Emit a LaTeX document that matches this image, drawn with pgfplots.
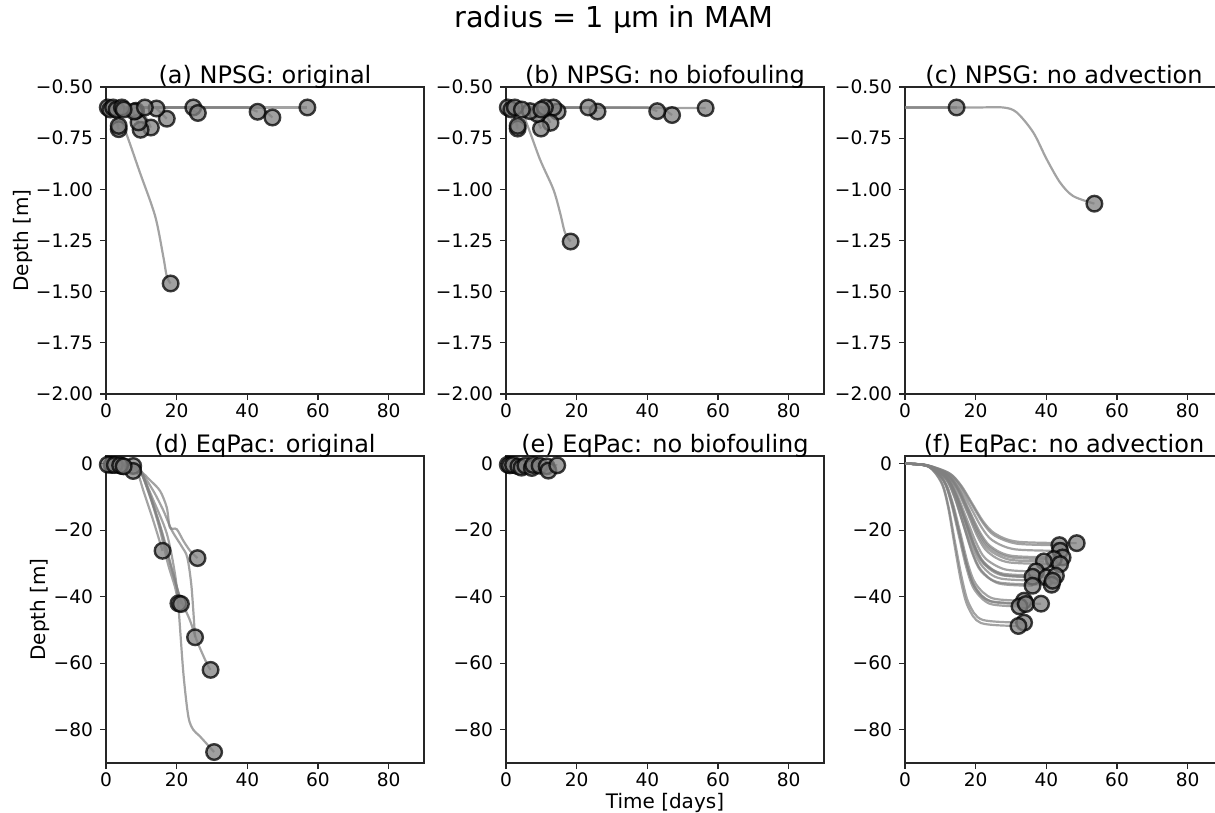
\documentclass[border=0pt]{standalone}
\usepackage{fontspec}
\setmainfont{DejaVu Sans}
\usepackage{pgfplots}
\pgfplotsset{compat=1.18}
\definecolor{trajgray}{RGB}{128,128,128}

\pgfplotsset{
  panel/.style={
    scale only axis, width=159pt, height=153.5pt,
    xmin=0, xmax=90, xtick={0,20,40,60,80}, xticklabels={0,20,40,60,80},
    tick align=outside, xtick pos=bottom, ytick pos=left,
    major tick length=3pt,
    tick style={black!85, line width=0.6pt},
    axis line style={black!85, line width=0.6pt},
    tick label style={font=\fontsize{9.3}{11}\selectfont},
    xticklabel shift=-1.5pt,
    label style={font=\fontsize{10}{12}\selectfont},
    ylabel shift=-5pt, xlabel shift=-4pt,
    every axis title/.style={at={(0.5,1)}, anchor=base, yshift=2pt, font=\fontsize{12}{14}\selectfont},
    anchor=south west,
  },
  top/.style={ymin=-2, ymax=-0.5, ytick={-2,-1.75,-1.5,-1.25,-1,-0.75,-0.5},
    yticklabels={−2.00,−1.75,−1.50,−1.25,−1.00,−0.75,−0.50}},
  bot/.style={ymin=-90, ymax=2.3, ytick={-80,-60,-40,-20,0},
    yticklabels={−80,−60,−40,−20,0}},
  traj/.style={no markers, color=trajgray, opacity=0.72, line width=1.1pt},
  ends/.style={only marks, mark=*, mark size=3.9pt,
    mark options={fill=trajgray, fill opacity=0.75, draw=black, draw opacity=0.75, line width=1.2pt}},
}

\begin{document}
\begin{tikzpicture}

\node[font=\fontsize{14.4}{17}\selectfont] at (307pt,-10pt) {radius = 1 µm in MAM};

% (a) NPSG original
\begin{axis}[panel, top, at={(53pt,-197pt)}, title={(a) NPSG: original}, ylabel={Depth [m]}]
\addplot[traj] coordinates {(0,-0.6)(57,-0.6)};
\addplot[traj] coordinates {(0,-0.6)(40,-0.6)(42.9,-0.621)};
\addplot[traj] coordinates {(0,-0.6)(44,-0.6)(47.1,-0.649)};
\addplot[traj] coordinates {(0,-0.6)(23,-0.6)(26,-0.627)};
\addplot[traj] coordinates {(0,-0.6)(14,-0.6)(17.2,-0.655)};
\addplot[traj] coordinates {(0,-0.6)(10,-0.6)(12.7,-0.698)};
\addplot[traj] coordinates {(0,-0.6)(7,-0.6)(9.8,-0.709)};
\addplot[traj] coordinates {(0,-0.6)(7,-0.6)(9.2,-0.673)};
\addplot[traj] coordinates {(0,-0.6)(1.5,-0.6)(3.6,-0.706)};
\addplot[traj] coordinates {(0,-0.6)(1.5,-0.6)(3.6,-0.69)};
\addplot[traj, smooth] coordinates {(0,-0.6)(2,-0.61)(4.9,-0.69)(9.6,-0.918)(13.9,-1.13)(16.2,-1.327)(17.2,-1.425)(18.3,-1.46)};
\addplot[ends] coordinates {(57,-0.6)(42.9,-0.621)(47.1,-0.649)(24.7,-0.6)(26,-0.627)(17.2,-0.655)(14.3,-0.605)(12.7,-0.698)(9.8,-0.709)(9.2,-0.673)(8.5,-0.616)(8.0,-0.62)(11,-0.6)(3.6,-0.706)(3.6,-0.69)(0.5,-0.6)(1.2,-0.61)(2,-0.6)(3,-0.61)(4.5,-0.6)(5,-0.61)(18.3,-1.46)};
\end{axis}

% (b) NPSG no biofouling
\begin{axis}[panel, top, at={(253pt,-197pt)}, title={(b) NPSG: no biofouling}]
\addplot[traj] coordinates {(0,-0.6)(56.5,-0.603)};
\addplot[traj] coordinates {(0,-0.6)(44,-0.6)(47,-0.637)};
\addplot[traj] coordinates {(0,-0.6)(40,-0.6)(42.8,-0.618)};
\addplot[traj] coordinates {(0,-0.6)(23,-0.6)(25.9,-0.62)};
\addplot[traj] coordinates {(0,-0.6)(12,-0.6)(14.6,-0.62)};
\addplot[traj] coordinates {(0,-0.6)(10,-0.6)(12.6,-0.675)};
\addplot[traj] coordinates {(0,-0.6)(7,-0.6)(9.9,-0.703)};
\addplot[traj] coordinates {(0,-0.6)(6,-0.6)(8.9,-0.632)};
\addplot[traj] coordinates {(0,-0.6)(1.5,-0.6)(3.3,-0.703)};
\addplot[traj] coordinates {(0,-0.6)(1.5,-0.6)(3.3,-0.69)};
\addplot[traj, smooth] coordinates {(0,-0.6)(2,-0.61)(4.9,-0.64)(9.6,-0.853)(13.4,-1.0)(15.3,-1.114)(16.7,-1.212)(18.3,-1.255)};
\addplot[ends] coordinates {(56.5,-0.603)(47,-0.637)(42.8,-0.618)(25.9,-0.62)(23.3,-0.6)(14.6,-0.62)(13.4,-0.6)(12.6,-0.675)(9.9,-0.703)(8.9,-0.632)(6.8,-0.618)(11,-0.6)(10,-0.61)(3.3,-0.703)(3.3,-0.69)(0.5,-0.6)(1.5,-0.61)(2.5,-0.6)(4.5,-0.61)(18.3,-1.255)};
\end{axis}

% (c) NPSG no advection
\begin{axis}[panel, top, at={(452.5pt,-197pt)}, title={(c) NPSG: no advection}]
\addplot[traj] coordinates {(0,-0.6)(14.6,-0.6)};
\addplot[traj, smooth] coordinates {(0,-0.6)(20,-0.6)(27.8,-0.6)(31.6,-0.624)(36.3,-0.722)(40.1,-0.853)(43.9,-0.967)(47.6,-1.033)(53.6,-1.07)};
\addplot[ends] coordinates {(14.6,-0.6)(53.6,-1.07)};
\end{axis}

% (d) EqPac original
\begin{axis}[panel, bot, at={(53pt,-381.5pt)}, title={(d) EqPac: original}, ylabel={Depth [m]}]
\addplot[traj] coordinates {(0,0)(1.6,-0.4)};
\addplot[traj] coordinates {(0,0)(4.5,-0.7)};
\addplot[traj] coordinates {(0,0)(7.7,-0.7)};
\addplot[traj] coordinates {(0,0)(5,-0.3)(7.7,-2.2)};
\addplot[traj, smooth] coordinates {(0,0)(6,-0.2)(8.7,-2.2)(10.6,-8.2)(13.4,-17.2)(16.0,-26.2)};
\addplot[traj, smooth] coordinates {(0,0)(7,-0.2)(9.6,-2)(12.5,-5)(15.3,-8.2)(17.2,-13.2)(18.1,-19.2)(20.0,-19.7)(21.9,-23.2)(23.8,-26.2)(25.9,-28.4)};
\addplot[traj, smooth] coordinates {(0,0)(7,-0.2)(9.6,-2)(13.4,-8.2)(16.2,-14)(18.6,-20)(21.5,-25)(23.0,-28.2)(24.2,-37)(25.2,-52.2)};
\addplot[traj, smooth] coordinates {(0,0)(7,-0.2)(9.6,-2)(12.5,-10)(15.3,-19)(18.1,-30)(20.9,-40)(23.8,-47.2)(25.7,-53.2)(28.5,-60)(29.6,-62)};
\addplot[traj, smooth] coordinates {(0,0)(7,-0.2)(9.6,-2)(12.5,-10)(15.3,-20)(17.5,-30)(19.5,-37)(20.5,-42)};
\addplot[traj, smooth] coordinates {(0,0)(7,-0.2)(10,-2.5)(13,-11)(16,-21)(18.5,-31)(20.3,-38)(21.2,-42.2)};
\addplot[traj, smooth] coordinates {(0,0)(7,-0.2)(9.6,-2)(13.4,-11)(17.2,-21)(19.5,-33)(20.5,-43)(21.9,-63)(23.3,-76)(24.7,-80)(26.6,-82)(30.6,-86.7)};
\addplot[ends] coordinates {(1.6,-0.4)(4.5,-0.7)(7.7,-0.7)(7.7,-2.2)(0.5,-0.3)(2.5,-0.4)(4.0,-0.5)(5.0,-0.8)(16.0,-26.2)(25.9,-28.4)(25.2,-52.2)(29.6,-62)(20.5,-42)(21.2,-42.2)(30.6,-86.7)};
\end{axis}

% (e) EqPac no biofouling
\begin{axis}[panel, bot, at={(253pt,-381.5pt)}, title={(e) EqPac: no biofouling}, xlabel={Time [days]}]
\addplot[traj] coordinates {(0,0)(3,-0.3)(3.5,-0.8)};
\addplot[traj] coordinates {(0,0)(3,-0.4)(4.4,-1.2)};
\addplot[traj] coordinates {(0,0)(5,-0.5)(7.3,-1.3)};
\addplot[traj] coordinates {(0,0)(6,-0.3)(9.5,-0.6)};
\addplot[traj] coordinates {(0,0)(8,-0.5)(11.5,-0.8)};
\addplot[traj] coordinates {(0,0)(9,-0.9)(12,-2.1)};
\addplot[traj] coordinates {(0,0)(10,-0.3)(14.5,-0.5)};
\addplot[ends] coordinates {(0.5,-0.3)(1.1,-0.5)(2,-0.4)(3.5,-0.8)(4.4,-1.2)(5.5,-0.6)(7.3,-1.3)(7.7,-0.4)(9.5,-0.6)(11.5,-0.8)(12,-2.1)(14.5,-0.5)};
\end{axis}

% (f) EqPac no advection
\begin{axis}[panel, bot, at={(452.5pt,-381.5pt)}, title={(f) EqPac: no advection}]
\addplot[traj, smooth] coordinates {(0,0)(6.1,-0.43)(12.5,-2.84)(15.8,-6.43)(19.0,-11.95)(22.2,-17.47)(25.5,-21.05)(31.9,-23.47)(48.6,-23.9)};
\addplot[traj, smooth] coordinates {(0,0)(6.1,-0.44)(12.5,-2.92)(15.7,-6.59)(18.9,-12.25)(22.1,-17.91)(25.3,-21.58)(31.7,-24.06)(43.7,-24.5)};
\addplot[traj, smooth] coordinates {(0,0)(6.1,-0.47)(12.35,-3.12)(15.45,-7.05)(18.56,-13.1)(21.67,-19.15)(24.77,-23.08)(30.98,-25.73)(43.9,-26.2)};
\addplot[traj, smooth] coordinates {(0,0)(6.2,-0.51)(12.2,-3.36)(15.2,-7.59)(18.2,-14.1)(21.2,-20.61)(24.2,-24.84)(30.1,-27.69)(44.6,-28.2)};
\addplot[traj, smooth] coordinates {(0,0)(6.2,-0.52)(12.1,-3.42)(15.1,-7.72)(18.1,-14.35)(21.0,-20.98)(24.0,-25.28)(29.9,-28.18)(42.1,-28.7)};
\addplot[traj, smooth] coordinates {(0,0)(6.2,-0.54)(12.0,-3.59)(14.9,-8.12)(17.8,-15.1)(20.6,-22.08)(23.5,-26.61)(29.3,-29.66)(43.9,-30.2)};
\addplot[traj, smooth] coordinates {(0,0)(6.2,-0.53)(12.0,-3.50)(15.0,-7.91)(17.9,-14.7)(20.8,-21.49)(23.8,-25.90)(29.6,-28.87)(39.3,-29.4)};
\addplot[traj, smooth] coordinates {(0,0)(6.2,-0.58)(11.8,-3.86)(14.5,-8.72)(17.3,-16.2)(20.1,-23.68)(22.8,-28.54)(28.4,-31.82)(37.1,-32.4)};
\addplot[traj, smooth] coordinates {(0,0)(6.3,-0.61)(11.65,-4.05)(14.3,-9.15)(17.0,-17.0)(19.7,-24.85)(22.35,-29.95)(27.7,-33.39)(36.1,-34.0)};
\addplot[traj, smooth] coordinates {(0,0)(6.3,-0.62)(11.6,-4.07)(14.3,-9.2)(17.0,-17.1)(19.6,-25.0)(22.3,-30.13)(27.6,-33.58)(40.1,-34.2)};
\addplot[traj, smooth] coordinates {(0,0)(6.3,-0.61)(11.7,-4.01)(14.4,-9.07)(17.1,-16.85)(19.75,-24.63)(22.4,-29.69)(27.8,-33.09)(42.7,-33.7)};
\addplot[traj, smooth] coordinates {(0,0)(6.4,-0.66)(11.4,-4.37)(13.9,-9.87)(16.5,-18.35)(19.0,-26.83)(21.5,-32.33)(26.6,-36.04)(36.1,-36.7)};
\addplot[traj, smooth] coordinates {(0,0)(6.3,-0.66)(11.4,-4.33)(14.0,-9.79)(16.5,-18.2)(19.1,-26.61)(21.6,-32.07)(26.7,-35.74)(41.5,-36.4)};
\addplot[traj, smooth] coordinates {(0,0)(6.3,-0.63)(11.5,-4.19)(14.2,-9.47)(16.8,-17.6)(19.4,-25.73)(22.0,-31.01)(27.2,-34.57)(41.8,-35.2)};
\addplot[traj, smooth] coordinates {(0,0)(6.4,-0.74)(11.0,-4.90)(13.3,-11.08)(15.6,-20.6)(17.8,-30.12)(20.1,-36.30)(24.7,-40.46)(33.7,-41.2)};
\addplot[traj, smooth] coordinates {(0,0)(6.5,-0.77)(10.85,-5.11)(13.0,-11.54)(15.2,-21.45)(17.4,-31.36)(19.6,-37.79)(24.0,-42.13)(32.4,-42.9)};
\addplot[traj, smooth] coordinates {(0,0)(6.5,-0.76)(10.9,-5.02)(13.1,-11.35)(15.4,-21.1)(17.6,-30.85)(19.8,-37.18)(24.3,-41.44)(34.2,-42.2)};
\addplot[traj, smooth] coordinates {(0,0)(6.5,-0.76)(10.9,-5.01)(13.15,-11.32)(15.4,-21.05)(17.6,-30.78)(19.8,-37.09)(24.3,-41.34)(38.5,-42.1)};
\addplot[traj, smooth] coordinates {(0,0)(6.6,-0.86)(10.4,-5.69)(12.3,-12.86)(14.2,-23.9)(16.2,-34.94)(18.1,-42.11)(21.9,-46.94)(33.7,-47.8)};
\addplot[traj, smooth] coordinates {(0,0)(6.6,-0.88)(10.3,-5.81)(12.2,-13.13)(14.0,-24.4)(15.9,-35.67)(17.8,-42.99)(21.5,-47.92)(32.1,-48.8)};
\addplot[ends] coordinates {(48.6,-23.9)(43.7,-24.5)(43.9,-26.2)(44.6,-28.2)(42.1,-28.7)(43.9,-30.2)(39.3,-29.4)(37.1,-32.4)(36.1,-34.0)(40.1,-34.2)(42.7,-33.7)(36.1,-36.7)(41.5,-36.4)(41.8,-35.2)(33.7,-41.2)(32.4,-42.9)(34.2,-42.2)(38.5,-42.1)(33.7,-47.8)(32.1,-48.8)};
\end{axis}

\pgfresetboundingbox
\useasboundingbox (0pt,0pt) rectangle (607.5pt,-406.5pt);
\end{tikzpicture}
\end{document}
